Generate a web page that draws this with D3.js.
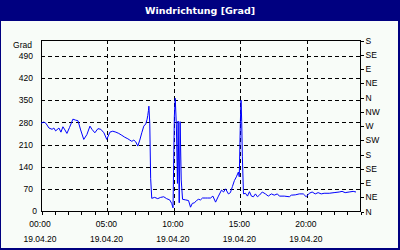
<!DOCTYPE html>
<html>
<head>
<meta charset="utf-8">
<script src="https://cdn.jsdelivr.net/npm/d3@7"></script>
<style>
  body { margin: 0; background: #fff; }
  svg { display: block; }
</style>
</head>
<body>
<svg id="chart"></svg>
<script>
// measurement times (19.04.20) and wind direction in degrees
var times = ["00:00","00:13","00:22","00:36","00:50","00:58","01:06","01:21","01:30","01:39",
  "01:48","01:57","02:09","02:24","02:36","02:47","02:59","03:13","03:27","03:41",
  "03:50","04:03","04:17","04:30","04:44","04:57","05:11","05:24","05:38","05:51",
  "06:05","06:18","06:32","06:41","06:50","06:59","07:08","07:17","07:26","07:35",
  "07:44","07:53","07:59","08:02","08:05","08:07","08:11","08:15","08:20","08:33",
  "08:47","09:00","09:14","09:27","09:41","09:50","09:56","10:02","10:06","10:11",
  "10:16","10:19","10:24","10:28","10:33","10:39","10:53","11:06","11:15","11:23",
  "11:33","11:42","11:51","12:00","12:09","12:21","12:32","12:45","12:56","13:08",
  "13:21","13:35","13:44","13:53","14:06","14:15","14:24","14:33","14:42","14:51",
  "14:55","15:00","15:03","15:06","15:09","15:14","15:23","15:32","15:41","15:50",
  "15:59","16:08","16:17","16:26","16:39","16:53","17:06","17:20","17:33","17:47",
  "17:56","18:18","18:41","18:50","19:08","19:26","19:44","19:57","20:11","20:24",
  "20:38","20:51","21:05","21:18","21:41","22:03","22:26","22:39","22:53","23:11",
  "23:29","23:42"];
var direction = [277,281,277,262,258,262,253,262,249,266,
  256,245,264,290,287,285,256,226,241,268,
  258,247,260,258,247,226,249,252,249,245,
  239,233,228,224,220,224,218,205,224,247,
  268,275,290,302,317,331,277,103,40,43,
  39,43,45,39,35,24,10,300,356,272,
  87,284,26,282,98,37,35,33,12,24,
  26,33,37,35,41,41,41,41,47,28,
  47,66,60,70,54,58,77,96,108,123,
  108,285,350,282,171,54,56,47,61,47,
  45,54,45,50,60,54,47,54,50,54,
  47,47,45,50,51,54,54,45,56,60,
  54,58,54,56,56,58,60,62,58,60,
  62,60];

var day = "19.04.20";
var gradTicks = [0, 70, 140, 210, 280, 350, 420, 490];
var compassTicks = [0, 45, 90, 135, 180, 225, 270, 315, 360, 405, 450, 495, 540];
var compassLabels = ["N","NE","E","SE","S","SW","W","NW","N","NE","E","SE","S"];
var labelHours = [0, 5, 10, 15, 20];

var width = 400,
    height = 250,
    margin = {top: 40, right: 40, bottom: 39, left: 41};

var parse = d3.timeParse("%d.%m.%y %H:%M");
var data = times.map((t, i) => ({time: parse(day + " " + t), value: direction[i]}));

var start = parse(day + " 00:00");
var end = d3.timeDay.offset(start, 1);

var svg = d3.select("#chart")
    .attr("width", width)
    .attr("height", height)
    .style("font-family", "'Liberation Sans', Arial, sans-serif");

// frame and title bar
svg.append("rect")
    .attr("width", width)
    .attr("height", height)
    .attr("fill", "#000080");
svg.append("rect")
    .attr("x", 1)
    .attr("y", 21)
    .attr("width", width - 3)
    .attr("height", height - 23)
    .attr("fill", "#f8fcf8");
svg.append("text")
    .attr("x", width / 2)
    .attr("y", 14)
    .attr("text-anchor", "middle")
    .attr("fill", "#fff")
    .style("font-family", "'DejaVu Sans', Verdana, sans-serif")
    .style("font-weight", "bold")
    .style("font-size", "9.5px")
    .text("Windrichtung [Grad]");

var x = d3.scaleTime()
    .domain([start, end])
    .range([margin.left, width - margin.right]);

var y = d3.scaleLinear()
    .domain([0, 540])
    .range([height - margin.bottom, margin.top]);

var grid = svg.append("g")
    .attr("stroke", "#000")
    .attr("stroke-dasharray", "4,3")
    .attr("shape-rendering", "crispEdges");

grid.selectAll(".h")
    .data(gradTicks.slice(1))
    .join("line")
    .attr("x1", margin.left)
    .attr("x2", width - margin.right)
    .attr("y1", d => Math.round(y(d)) + 0.5)
    .attr("y2", d => Math.round(y(d)) + 0.5);

grid.selectAll(".v")
    .data(labelHours.slice(1))
    .join("line")
    .attr("x1", d => Math.round(x(d3.timeHour.offset(start, d))) + 0.5)
    .attr("x2", d => Math.round(x(d3.timeHour.offset(start, d))) + 0.5)
    .attr("y1", margin.top)
    .attr("y2", height - margin.bottom);

// plot box
svg.append("rect")
    .attr("x", margin.left + 0.5)
    .attr("y", margin.top + 0.5)
    .attr("width", width - margin.left - margin.right)
    .attr("height", height - margin.top - margin.bottom)
    .attr("fill", "none")
    .attr("stroke", "#000")
    .attr("shape-rendering", "crispEdges");

// line
var line = d3.line()
    .x(d => x(d.time))
    .y(d => y(d.value));

svg.append("path")
    .datum(data)
    .attr("fill", "none")
    .attr("stroke", "#0000ff")
    .attr("stroke-width", 1)
    .attr("d", line);

// x axis: hourly ticks, labels every 5 hours
var xAxis = svg.append("g")
    .attr("transform", `translate(0.5, ${height - margin.bottom + 0.5})`)
    .call(d3.axisBottom(x)
        .ticks(d3.timeHour.every(1))
        .tickSize(3)
        .tickSizeOuter(0)
        .tickFormat(""));
xAxis.select(".domain").remove();
xAxis.selectAll("line").attr("shape-rendering", "crispEdges");

var xLabels = svg.append("g")
    .style("font-size", "8.5px")
    .attr("text-anchor", "middle");
labelHours.forEach(h => {
    let t = d3.timeHour.offset(start, h);
    let g = xLabels.append("g")
        .attr("transform", `translate(${x(t) - 1}, 0)`);
    g.append("text").attr("y", 227).text(d3.timeFormat("%H:%M")(t));
    g.append("text").attr("y", 242).text(d3.timeFormat("%d.%m.%y")(t));
});

// left axis
var yAxis = svg.append("g")
    .attr("transform", `translate(${margin.left - 8}, 0)`)
    .call(d3.axisLeft(y).tickValues(gradTicks).tickSize(0).tickPadding(0));
yAxis.select(".domain").remove();
yAxis.selectAll("text")
    .style("font-size", "8.5px")
    .style("font-family", null)
    .attr("fill", "#000")
    .attr("dx", d => d === 0 ? 4 : 0);
yAxis.attr("font-family", null);

svg.append("text")
    .attr("x", margin.left - 9)
    .attr("y", 48)
    .attr("text-anchor", "end")
    .style("font-size", "8.5px")
    .text("Grad");

// right axis: compass directions
var rAxis = svg.append("g")
    .attr("transform", `translate(${width - margin.right + 0.5}, 0.5)`)
    .call(d3.axisRight(y)
        .tickValues(compassTicks)
        .tickSize(3)
        .tickPadding(2)
        .tickFormat((d, i) => compassLabels[i]));
rAxis.select(".domain").remove();
rAxis.attr("font-family", null);
rAxis.selectAll("line").attr("shape-rendering", "crispEdges");
rAxis.selectAll("text")
    .style("font-size", "8.5px")
    .attr("fill", "#000");
</script>
</body>
</html>
